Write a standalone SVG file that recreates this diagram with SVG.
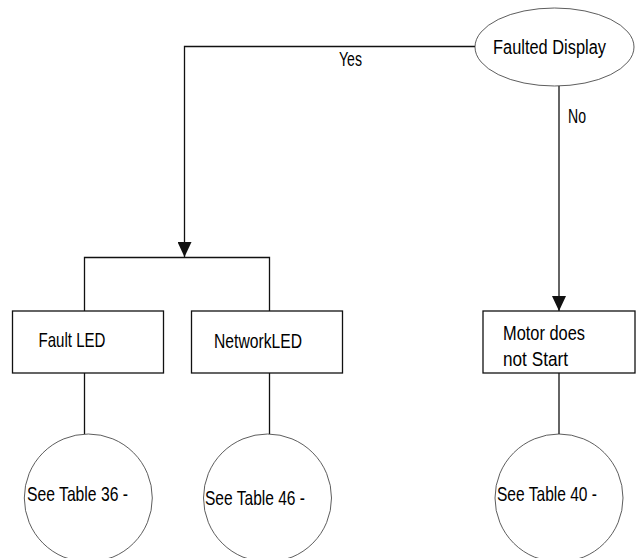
<svg xmlns="http://www.w3.org/2000/svg" width="636" height="558" viewBox="0 0 636 558">
<style>
text{font-family:"Liberation Sans","DejaVu Sans Condensed",sans-serif;font-size:21px;fill:#000}
.box{fill:#fff;stroke:#111;stroke-width:1.3}
.oval{fill:#fff;stroke:#333;stroke-width:0.8}
.ln{fill:none;stroke:#111;stroke-width:1.3}
</style>
<defs>
<marker id="arr" viewBox="0 0 16 14" refX="15" refY="7" markerWidth="16" markerHeight="14" markerUnits="userSpaceOnUse" orient="auto">
<path d="M0,0 L15,7 L0,14 Z" fill="#111"/>
</marker>
</defs>
<g id="connectors">
<path class="ln" d="M475,46.5 H184.5 V257" marker-end="url(#arr)"/>
<path class="ln" d="M84.5,311 V257.5 H269.5 V311"/>
<path class="ln" d="M559,86 V311" marker-end="url(#arr)"/>
<path class="ln" d="M84.5,373 V434"/>
<path class="ln" d="M269.5,373 V434"/>
<path class="ln" d="M559,373 V434"/>
<text x="339" y="66" textLength="23" lengthAdjust="spacingAndGlyphs">Yes</text>
<text x="568" y="123" textLength="18" lengthAdjust="spacingAndGlyphs">No</text>
</g>
<g id="faulted-display">
<ellipse class="oval" cx="554.5" cy="47" rx="79.5" ry="39"/>
<text transform="matrix(0.781 0 0 1 493 54)" x="0" y="0">Faulted Display</text>
</g>
<g id="fault-led">
<rect class="box" x="12.5" y="311" width="151" height="62"/>
<text x="38.5" y="347" textLength="67" lengthAdjust="spacingAndGlyphs">Fault LED</text>
</g>
<g id="network-led">
<rect class="box" x="191.5" y="311" width="151" height="62"/>
<text x="214" y="348" textLength="88" lengthAdjust="spacingAndGlyphs">NetworkLED</text>
</g>
<g id="motor">
<rect class="box" x="483" y="311" width="152" height="62"/>
<text x="503" y="340" textLength="82" lengthAdjust="spacingAndGlyphs">Motor does</text>
<text x="503" y="366" textLength="65" lengthAdjust="spacingAndGlyphs">not Start</text>
</g>
<g id="table36">
<ellipse class="oval" cx="88.3" cy="498" rx="64" ry="64"/>
<text x="27" y="501" textLength="101" lengthAdjust="spacingAndGlyphs">See Table 36 -</text>
</g>
<g id="table46">
<ellipse class="oval" cx="267.5" cy="498" rx="64" ry="64"/>
<text x="205" y="505" textLength="100" lengthAdjust="spacingAndGlyphs">See Table 46 -</text>
</g>
<g id="table40">
<ellipse class="oval" cx="559" cy="498" rx="64" ry="64"/>
<text x="497" y="501" textLength="100" lengthAdjust="spacingAndGlyphs">See Table 40 -</text>
</g>
</svg>
